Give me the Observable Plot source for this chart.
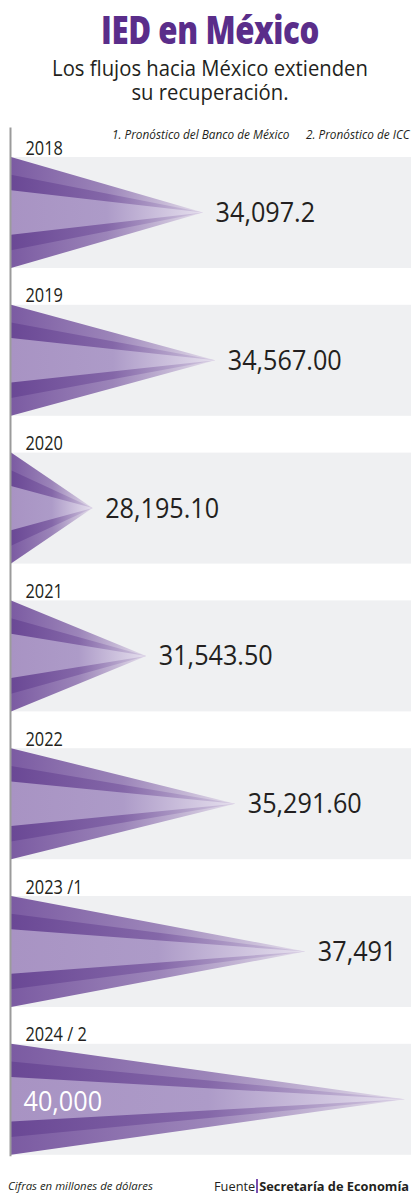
<!DOCTYPE html>
<html><head><meta charset="utf-8">
<script src="https://cdn.jsdelivr.net/npm/d3@7"></script>
<script src="https://cdn.jsdelivr.net/npm/@observablehq/plot@0.6"></script>
<style>
html,body{margin:0;padding:0;background:#fff;}
#root{position:relative;width:413px;height:1195px;overflow:hidden;font-family:"Open Sans",sans-serif;color:#231f20;}
.abs{position:absolute;white-space:nowrap;line-height:1;}
#title{left:0;width:420px;text-align:center;top:9px;font-size:39px;font-weight:800;color:#5a2d8a;letter-spacing:-0.5px;transform:scaleX(0.8);transform-origin:210px 50%;}
#sub{left:0;width:420px;text-align:center;font-size:22px;line-height:24px;top:55px;transform:scaleX(0.92);transform-origin:210px 50%;}
.note{font-size:11.8px;font-style:italic;color:#231f20;}
#chart{position:absolute;left:0;top:118px;}
.bar{display:inline-block;width:2px;height:14px;background:#7a4fb0;vertical-align:-2px;margin:0 1px;}
</style></head>
<body><div id="root">
<div id="title" class="abs">IED en México</div>
<div id="sub" class="abs">Los flujos hacia México extienden<br>su recuperación.</div>
<div id="chart"></div>
<div class="abs note" id="n1" style="left:112px;top:129px"></div>
<div class="abs note" id="n2" style="left:306px;top:129px"></div>
<div class="abs note" style="left:8px;top:1180px;font-size:11.4px">Cifras en millones de dólares</div>
<div class="abs" style="left:214px;top:1179px;font-size:12.8px">Fuente<span class="bar"></span><b>Secretaría de Economía</b></div>
</div>
<script>
// ---- data ----
const years = ["2018", "2019", "2020", "2021", "2022", "2023 /1", "2024 / 2"];
const values = [34097.2, 34567.00, 28195.10, 31543.50, 35291.60, 37491, 40000];
const valueLabels = ["34,097.2", "34,567.00", "28,195.10", "31,543.50", "35,291.60", "37,491", "40,000"];
const notes = ["1. Pronóstico del Banco de México", "2. Pronóstico de ICC"];

document.getElementById("n1").textContent = notes[0];
document.getElementById("n2").textContent = notes[1];

// ---- layout ----
const U = 147.8, H = 1052, top0 = 39, bandH = 111 / U;
const rows = years.map((year, i) => ({year, value: values[i], label: valueLabels[i], i}));
const maxV = d3.max(values);
const inside = d => d.value === maxV;
const layers = [
  {key: "a", t0: 0, t1: 1},
  {key: "b", t0: 0.16, t1: 0.84},
  {key: "c", t0: 0.30, t1: 0.70}
];
const tri = [];
for (const r of rows) for (const L of layers) {
  const z = r.year + L.key;
  tri.push({z, layer: L.key, y: r.i + L.t0 * bandH, x: 0});
  tri.push({z, layer: L.key, y: r.i + 0.5 * bandH, x: r.value});
  tri.push({z, layer: L.key, y: r.i + L.t1 * bandH, x: 0});
}

const svg = Plot.plot({
  width: 413, height: H,
  marginLeft: 11, marginRight: 2, marginTop: 0, marginBottom: 0,
  style: {fontFamily: "'Open Sans', sans-serif", background: "transparent"},
  x: {type: "pow", exponent: 4.5, domain: [0, maxV], range: [11, 405], axis: null},
  y: {domain: [-top0 / U, (H - top0) / U], range: [0, H], axis: null},
  marks: [
    Plot.rect(rows, {x1: 0, x2: maxV, y1: "i", y2: d => d.i + bandH, fill: "#eff0f2", insetRight: -6}),
    ...layers.map(L => Plot.areaX(tri.filter(d => d.layer === L.key), {
      x: "x", y: "y", z: "z", fill: `url(#grad-${L.key})`, curve: "linear"
    })),
    Plot.ruleX([0], {y1: -0.2, y2: 6 + bandH + 0.01, stroke: "#9b9b9b", strokeWidth: 2, dx: -1}),
    Plot.text(rows, {x: 0, y: "i", text: "year", textAnchor: "start", lineAnchor: "bottom",
      dx: 14, dy: -3, fontSize: 20, fill: "#231f20"}),
    Plot.text(rows.filter(d => !inside(d)), {x: "value", y: d => d.i + bandH / 2, text: "label",
      textAnchor: "start", dx: 12, dy: 9, fontSize: 28, fill: "#231f20"}),
    Plot.text(rows.filter(inside), {x: 0, y: d => d.i + bandH / 2, text: "label",
      textAnchor: "start", dx: 12, dy: 11, fontSize: 28, fill: "#ffffff"})
  ]
});

const defs = d3.select(svg).insert("defs", ":first-child");
function grad(id, stops) {
  const g = defs.append("linearGradient").attr("id", id)
    .attr("x1", 0).attr("x2", 1).attr("y1", 0).attr("y2", 0);
  for (const [o, c] of stops) g.append("stop").attr("offset", o).attr("stop-color", c);
}
grad("grad-a", [[0, "#7b5ba2"], [0.5, "#9c85b9"], [1, "#e4deeb"]]);
grad("grad-b", [[0, "#6a4895"], [0.5, "#8467a8"], [1, "#d5cbe2"]]);
grad("grad-c", [[0, "#a893c3"], [0.5, "#ad9bc8"], [1, "#e6e0ee"]]);

// narrow the glyphs (reference face is narrower than Open Sans)
const textGroups = d3.select(svg).selectAll("g[aria-label='text']").nodes();
const squeeze = [0.82, 0.9, 0.9];
textGroups.forEach((g, k) => {
  d3.select(g).selectAll("text").each(function () {
    const t = d3.select(this);
    const x = +t.attr("x") || 0, y = +t.attr("y") || 0;
    const tr = t.attr("transform") || "";
    t.attr("x", null).attr("y", null)
      .attr("transform", `${tr} translate(${x},${y}) scale(${squeeze[k]},1)`);
  });
});

document.getElementById("chart").appendChild(svg);
</script>
</body></html>
